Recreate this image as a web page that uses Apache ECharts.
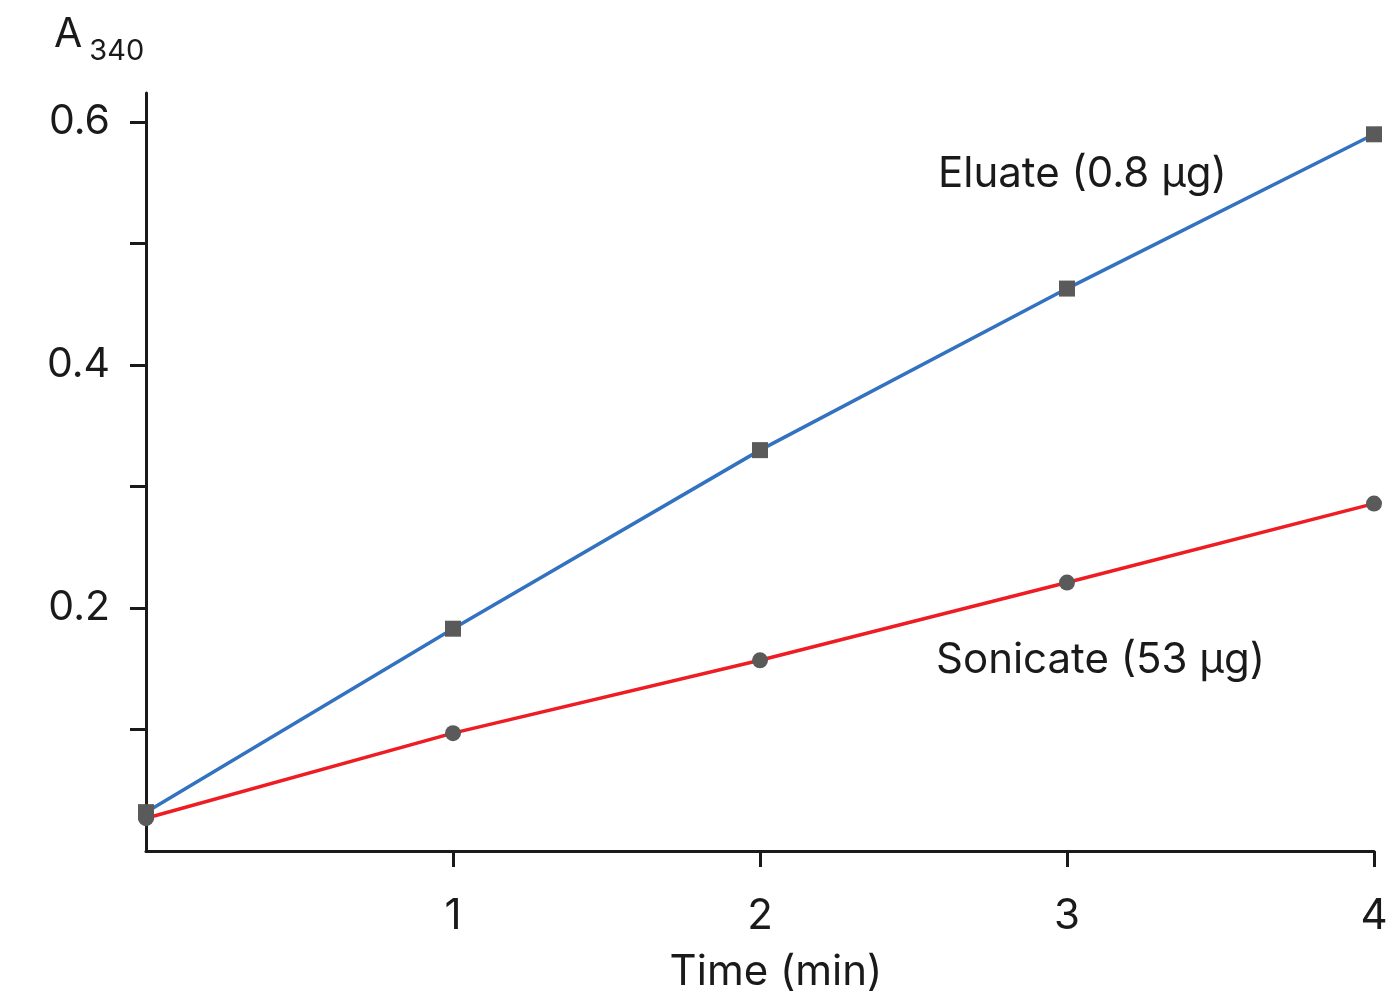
<!DOCTYPE html>
<html><head><meta charset="utf-8">
<script src="https://cdn.jsdelivr.net/npm/echarts@6/dist/echarts.min.js"></script>
<style>html,body{margin:0;padding:0;background:#fff}#c{width:1399px;height:994px}</style>
</head><body><div id="c"></div>
<script>
const times = [0, 1, 2, 3, 4];
const eluate = [0.032, 0.183, 0.330, 0.463, 0.590];
const sonicate = [0.027, 0.097, 0.157, 0.221, 0.286];
const yLabelValues = [0.2, 0.4, 0.6];
const yTickValues = [0.1, 0.2, 0.3, 0.4, 0.5, 0.6];
const xTickValues = [1, 2, 3, 4];
const seriesNames = ['Eluate (0.8 μg)', 'Sonicate (53 μg)'];

const FONT = 'Inter';
const TXT = '#1a1a1a';
const chart = echarts.init(document.getElementById('c'), null, {renderer: 'canvas'});
const pair = (xs, ys) => xs.map((x, i) => [x, ys[i]]);
chart.setOption({
  animation: false,
  backgroundColor: '#fff',
  grid: {left: 146, right: 25, top: 93, bottom: 143, containLabel: false, outerBoundsMode: 'none'},
  xAxis: {
    type: 'value', min: 0, max: 4,
    name: 'Time (min)', nameLocation: 'middle', nameGap: 100,
    nameTextStyle: {fontFamily: FONT, fontSize: 42, color: TXT, padding: [0, 0, 0, 32]},
    axisLine: {show: true, onZero: false, lineStyle: {color: TXT, width: 3}},
    axisTick: {show: true, length: 16, lineStyle: {color: TXT, width: 3}, customValues: xTickValues},
    axisLabel: {show: true, margin: 44, fontFamily: FONT, fontSize: 42, color: TXT, customValues: xTickValues},
    splitLine: {show: false}
  },
  yAxis: {
    type: 'value', min: 0, max: 0.624,
    axisLine: {show: true, onZero: false, lineStyle: {color: TXT, width: 3}},
    axisTick: {show: true, length: 16, lineStyle: {color: TXT, width: 3}, customValues: yTickValues},
    axisLabel: {show: true, margin: 36, fontFamily: FONT, fontSize: 41, color: TXT, customValues: yLabelValues,
      formatter: v => v.toFixed(1)},
    splitLine: {show: false}
  },
  graphic: [
    {type: 'text', left: 54, top: 14, style: {
      text: '{a|A}{s|340}', fontFamily: FONT, fill: TXT,
      rich: {a: {fontSize: 41, fontFamily: FONT, color: TXT}, s: {fontSize: 29, fontFamily: FONT, color: TXT, padding: [34, 0, 0, 7]}}
    }},
    {type: 'text', left: 938, top: 153, style: {text: seriesNames[0], fontFamily: FONT, fontSize: 42, fill: TXT}},
    {type: 'text', left: 936, top: 639, style: {text: seriesNames[1], fontFamily: FONT, fontSize: 42, fill: TXT}}
  ],
  series: [
    {name: seriesNames[0], type: 'line', data: pair(times, eluate), symbol: 'rect', symbolSize: 16,
      lineStyle: {color: '#3272c0', width: 3.5}, itemStyle: {color: '#5a5a5a'}, z: 3},
    {name: seriesNames[1], type: 'line', data: pair(times, sonicate), symbol: 'circle', symbolSize: 16,
      lineStyle: {color: '#ee1d23', width: 3.5}, itemStyle: {color: '#5a5a5a'}, z: 3}
  ]
});
</script></body></html>
